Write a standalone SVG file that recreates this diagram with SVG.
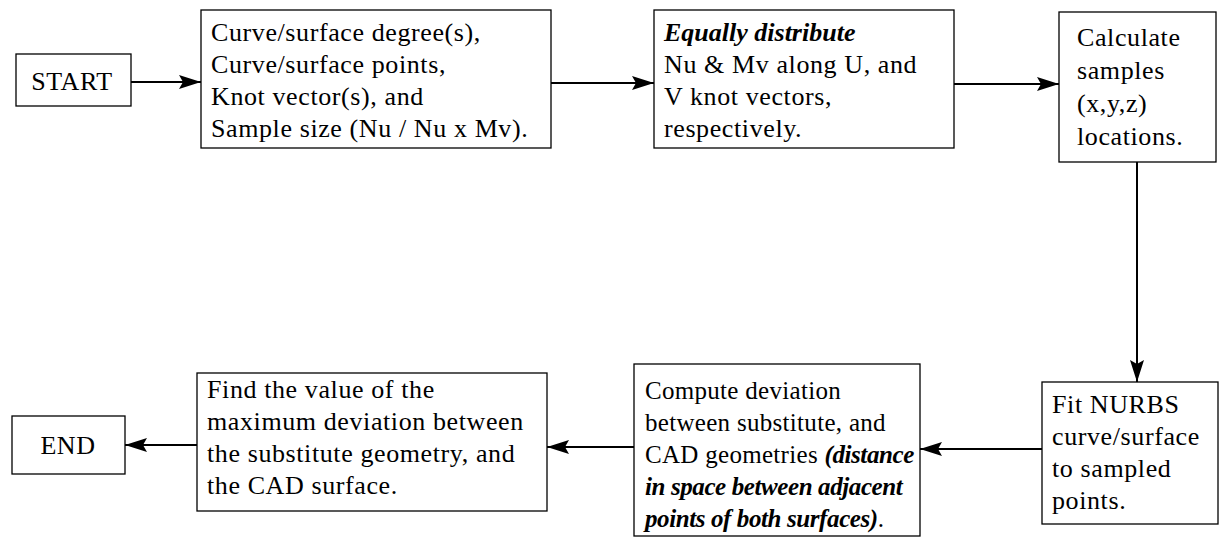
<svg xmlns="http://www.w3.org/2000/svg" width="1221" height="540" viewBox="0 0 1221 540">
<defs>
<marker id="ah" markerUnits="userSpaceOnUse" markerWidth="24" markerHeight="16" refX="22" refY="7" orient="auto">
<path d="M0,0 L22,7 L0,14 L4,7 Z" fill="#000"/>
</marker>
<style>
.box{fill:#fff;stroke:#000;stroke-width:1.3}
.t{font-family:"Liberation Serif","Times New Roman",serif;font-size:26px;fill:#000;letter-spacing:0.6px}
.s{font-size:25px;letter-spacing:0.3px}
.c{text-anchor:middle}
.bi{font-weight:bold;font-style:italic;letter-spacing:-0.4px}
.ln{stroke:#000;stroke-width:2;fill:none;marker-end:url(#ah)}
</style>
</defs>
<rect width="1221" height="540" fill="#fff"/>
<g id="start">
<rect class="box" x="16" y="54" width="115" height="52"/>
<text class="t c" x="72" y="90">START</text>
</g>
<g id="input">
<rect class="box" x="201" y="10" width="350" height="138"/>
<text class="t" x="211" y="41">Curve/surface degree(s),</text>
<text class="t" x="211" y="73">Curve/surface points,</text>
<text class="t" x="211" y="105">Knot vector(s), and</text>
<text class="t" x="211" y="137">Sample size (Nu / Nu x Mv).</text>
</g>
<g id="distribute">
<rect class="box" x="654" y="10" width="300" height="138"/>
<text class="t bi" x="664" y="41" style="letter-spacing:0">Equally distribute</text>
<text class="t" x="664" y="73">Nu &amp; Mv along U, and</text>
<text class="t" x="664" y="105">V knot vectors,</text>
<text class="t" x="664" y="137">respectively.</text>
</g>
<g id="calculate">
<rect class="box" x="1059" y="12" width="157" height="150"/>
<text class="t" x="1077" y="46">Calculate</text>
<text class="t" x="1077" y="79">samples</text>
<text class="t" x="1077" y="112">(x,y,z)</text>
<text class="t" x="1077" y="145">locations.</text>
</g>
<g id="fit">
<rect class="box" x="1042" y="382" width="176" height="142"/>
<text class="t" x="1052" y="413">Fit NURBS</text>
<text class="t" x="1052" y="445">curve/surface</text>
<text class="t" x="1052" y="477">to sampled</text>
<text class="t" x="1052" y="509">points.</text>
</g>
<g id="compute">
<rect class="box" x="634" y="364" width="286" height="172"/>
<text class="t s" x="645" y="399">Compute deviation</text>
<text class="t s" x="645" y="431">between substitute, and</text>
<text class="t s" x="645" y="463">CAD geometries <tspan class="bi">(distance</tspan></text>
<text class="t s bi" x="645" y="495">in space between adjacent</text>
<text class="t s" x="645" y="527"><tspan class="bi">points of both surfaces)</tspan>.</text>
</g>
<g id="find">
<rect class="box" x="197" y="373" width="350" height="138"/>
<text class="t" x="207" y="398">Find the value of the</text>
<text class="t" x="207" y="430">maximum deviation between</text>
<text class="t" x="207" y="462">the substitute geometry, and</text>
<text class="t" x="207" y="494">the CAD surface.</text>
</g>
<g id="end">
<rect class="box" x="12" y="416" width="113" height="58"/>
<text class="t c" x="68" y="454">END</text>
</g>
<g id="connectors">
<line class="ln" x1="131" y1="82" x2="201" y2="82"/>
<line class="ln" x1="551" y1="83" x2="654" y2="83"/>
<line class="ln" x1="954" y1="84" x2="1059" y2="84"/>
<line class="ln" x1="1137" y1="162" x2="1137" y2="382"/>
<line class="ln" x1="1042" y1="449" x2="920" y2="449"/>
<line class="ln" x1="634" y1="447" x2="547" y2="447"/>
<line class="ln" x1="197" y1="445" x2="125" y2="445"/>
</g>
</svg>
